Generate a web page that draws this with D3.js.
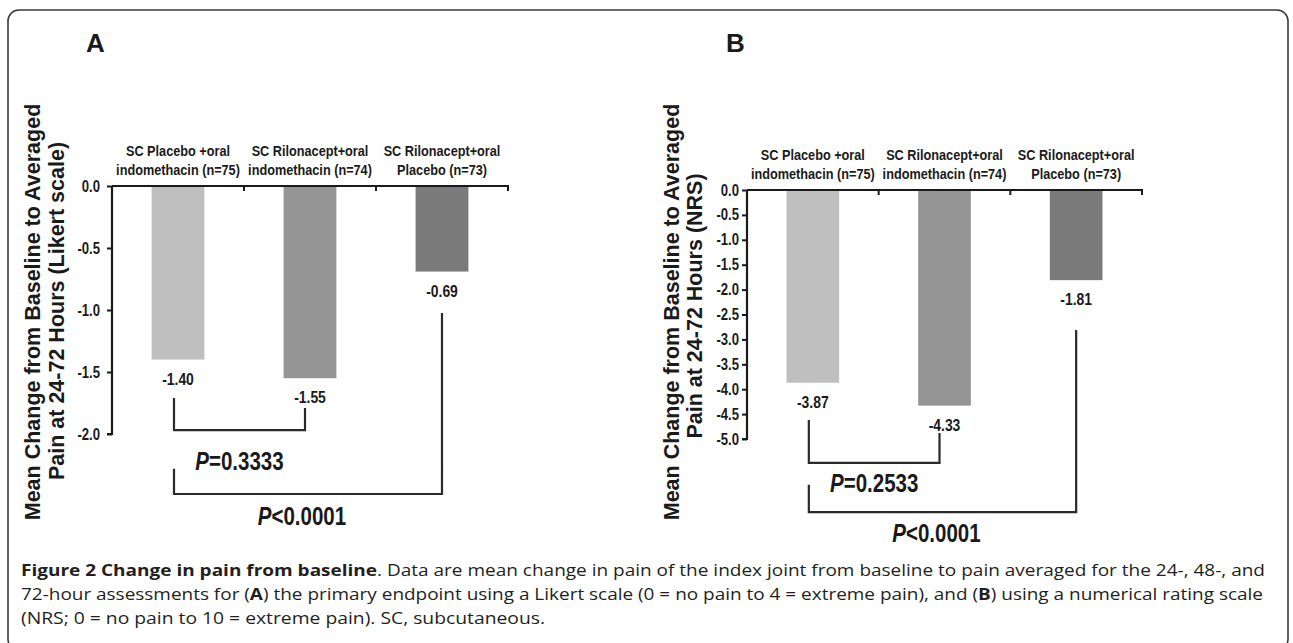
<!DOCTYPE html>
<html>
<head>
<meta charset="utf-8">
<script src="https://cdn.jsdelivr.net/npm/d3@7"></script>
<style>
  html, body { margin: 0; padding: 0; background: #fff; }
  svg { display: block; }
</style>
</head>
<body>
<svg id="chart" width="1293" height="643"></svg>
<script>
// ---------------- DATA ----------------
const categoryLine1 = ["SC Placebo +oral", "SC Rilonacept+oral", "SC Rilonacept+oral"];
const categoryLine2 = ["indomethacin (n=75)", "indomethacin (n=74)", "Placebo (n=73)"];
const valuesA = [-1.40, -1.55, -0.69];
const valuesB = [-3.87, -4.33, -1.81];
const valueLabelsA = ["-1.40", "-1.55", "-0.69"];
const valueLabelsB = ["-3.87", "-4.33", "-1.81"];
const ticksA = [0, -0.5, -1.0, -1.5, -2.0];
const ticksB = [0, -0.5, -1.0, -1.5, -2.0, -2.5, -3.0, -3.5, -4.0, -4.5, -5.0];
const barColors = ["#bfbfbf", "#959595", "#7a7a7a"];
const yTitleA = ["Mean Change from Baseline to Averaged", "Pain at 24-72 Hours (Likert scale)"];
const yTitleB = ["Mean Change from Baseline to Averaged", "Pain at 24-72 Hours (NRS)"];
// comparisons: [from category, to category, operator, p-value]
const comparisonsA = [[0, 1, "=", "0.3333"], [0, 2, "<", "0.0001"]];
const comparisonsB = [[0, 1, "=", "0.2533"], [0, 2, "<", "0.0001"]];
// bracket levels in data units: [bottom, left top, right top, label baseline]
const bracketLevelsA = [[-1.968, -1.71, -1.79, -2.29], [-2.484, -2.28, -1.024, -2.735]];
const bracketLevelsB = [[-5.48, -4.62, -4.88, -6.06], [-6.47, -5.92, -2.81, -7.07]];
const captionLines = [
  [["Figure 2 Change in pain from baseline", true], [". Data are mean change in pain of the index joint from baseline to pain averaged for the 24-, 48-, and", false]],
  [["72-hour assessments for (", false], ["A", true], [") the primary endpoint using a Likert scale (0 = no pain to 4 = extreme pain), and (", false], ["B", true], [") using a numerical rating scale", false]],
  [["(NRS; 0 = no pain to 10 = extreme pain). SC, subcutaneous.", false]]
];

// ---------------- SETUP ----------------
const svg = d3.select("#chart");
const ink = "#1a1a1a";

// check whether a narrow font is installed
function hasFont(name) {
  const c = document.createElement("canvas").getContext("2d");
  c.font = "bold 40px monospace";
  const w0 = c.measureText("indomethacin (n=75) 0123").width;
  c.font = "bold 40px '" + name + "', monospace";
  const w1 = c.measureText("indomethacin (n=75) 0123").width;
  return Math.abs(w0 - w1) > 0.5;
}
const narrowOK = hasFont("Liberation Sans Narrow");

function narrowText(g, x, y, txt, size, anchor) {
  const t = g.append("text")
    .attr("text-anchor", anchor || "middle")
    .attr("font-weight", "bold")
    .attr("font-size", size)
    .attr("fill", ink);
  if (narrowOK) {
    t.attr("x", x).attr("y", y).attr("font-family", "'Liberation Sans Narrow', 'Arial Narrow', sans-serif");
  } else {
    t.attr("transform", `translate(${x},${y}) scale(0.82,1)`).attr("font-family", "'Liberation Sans', Arial, sans-serif");
  }
  if (txt) t.text(txt);
  return t;
}

// frame
svg.append("rect")
  .attr("x", 8).attr("y", 10).attr("width", 1280).attr("height", 640)
  .attr("rx", 11).attr("ry", 11)
  .attr("fill", "none").attr("stroke", "#3a3a3a").attr("stroke-width", 1.6);

function panel(cfg) {
  const g = svg.append("g");
  const n = cfg.values.length;
  const x = d3.scaleBand().domain(d3.range(n)).range([cfg.x0, cfg.x1]).paddingInner(0.6).paddingOuter(0.3);
  const y = d3.scaleLinear().domain(cfg.domain).range([cfg.y0, cfg.y1]);
  const step = x.step();
  const cx = i => x(i) + x.bandwidth() / 2;

  // panel letter
  g.append("text").attr("x", cfg.letterX).attr("y", 52)
    .attr("font-family", "'Liberation Sans', Arial, sans-serif").attr("font-weight", "bold")
    .attr("font-size", 26).attr("fill", ink).text(cfg.letter);

  // y title
  cfg.yTitle.forEach((line, k) => {
    g.append("text")
      .attr("transform", `translate(${cfg.titleX[k]},${cfg.titleY[k]}) rotate(-90)`)
      .attr("text-anchor", "middle")
      .attr("font-family", "'Liberation Sans', Arial, sans-serif").attr("font-weight", "bold")
      .attr("font-size", 21.5).attr("fill", ink).text(line);
  });

  // bars
  g.selectAll("rect.bar").data(cfg.values).join("rect")
    .attr("class", "bar")
    .attr("x", (d, i) => x(i)).attr("width", x.bandwidth())
    .attr("y", y(0)).attr("height", d => y(d) - y(0))
    .attr("fill", (d, i) => barColors[i]);

  // y axis
  const yAxis = d3.axisLeft(y).tickValues(cfg.ticks).tickFormat(d3.format(".1f")).tickSize(5).tickPadding(cfg.tickPad);
  const ya = g.append("g").attr("transform", `translate(${cfg.x0},0)`).call(yAxis);
  ya.select(".domain").attr("stroke", ink).attr("stroke-width", 2.2).attr("d", `M-5,${cfg.y1}H0V${cfg.y0}`);
  ya.selectAll(".tick line").attr("stroke", ink).attr("stroke-width", 2);
  ya.selectAll(".tick text").remove();
  cfg.ticks.forEach(t => {
    narrowText(g, cfg.x0 - 5 - cfg.tickPad, y(t) + 5.5, d3.format(".1f")(t).replace("−", "-"), 16, "end");
  });

  // x axis at zero
  g.append("line").attr("x1", cfg.x0).attr("x2", cfg.x1).attr("y1", y(0)).attr("y2", y(0))
    .attr("stroke", ink).attr("stroke-width", 2.2);
  d3.range(n).forEach(i => {
    const bx = x(i) + x.bandwidth() / 2 + step / 2;
    g.append("line").attr("x1", bx).attr("x2", bx).attr("y1", y(0) - 1).attr("y2", y(0) + 5)
      .attr("stroke", ink).attr("stroke-width", 2);
  });

  // category labels
  d3.range(n).forEach(i => {
    narrowText(g, cx(i), y(0) - 30, categoryLine1[i], 15.5);
    narrowText(g, cx(i), y(0) - 11, categoryLine2[i], 15.5);
  });

  // value labels
  cfg.values.forEach((v, i) => {
    narrowText(g, cx(i), y(v) + 25, cfg.valueLabels[i], 17);
  });

  // brackets
  cfg.comparisons.forEach((c, k) => {
    const lv = cfg.levels[k];
    const xl = cx(c[0]) - 4;
    const xr = cx(c[1]) - (k === 0 ? 5 : 0);
    g.append("path")
      .attr("d", `M${xl},${y(lv[1])}V${y(lv[0])}H${xr}V${y(lv[2])}`)
      .attr("fill", "none").attr("stroke", "#2a2a2a").attr("stroke-width", 2.2);
    const t = narrowText(g, (xl + xr) / 2 - (k === 0 ? 0 : 6), y(lv[3]), "", 25);
    t.append("tspan").attr("font-style", "italic").text("P");
    t.append("tspan").text(c[2] + c[3]);
  });
}

panel({
  letter: "A", letterX: 86,
  values: valuesA, valueLabels: valueLabelsA, ticks: ticksA,
  domain: [0, -2], x0: 112, x1: 508, y0: 186, y1: 434, tickPad: 7,
  yTitle: yTitleA, titleX: [40, 64], titleY: [312, 311],
  comparisons: comparisonsA, levels: bracketLevelsA
});
panel({
  letter: "B", letterX: 726,
  values: valuesB, valueLabels: valueLabelsB, ticks: ticksB,
  domain: [0, -5], x0: 747, x1: 1142, y0: 190, y1: 439, tickPad: 3,
  yTitle: yTitleB, titleX: [679, 702], titleY: [312, 306],
  comparisons: comparisonsB, levels: bracketLevelsB
});

// caption
const capWidths = [1244, 1242, 524];
const capY = [576, 600, 624];
captionLines.forEach((parts, k) => {
  const t = svg.append("text").attr("x", 21).attr("y", capY[k])
    .attr("font-family", "'Open Sans', 'Noto Sans', sans-serif").attr("font-size", 16)
    .attr("fill", "#231f20")
    .attr("textLength", capWidths[k]).attr("lengthAdjust", "spacingAndGlyphs");
  parts.forEach(p => {
    t.append("tspan").attr("font-weight", p[1] ? "bold" : "normal").text(p[0]);
  });
});
</script>
</body>
</html>
